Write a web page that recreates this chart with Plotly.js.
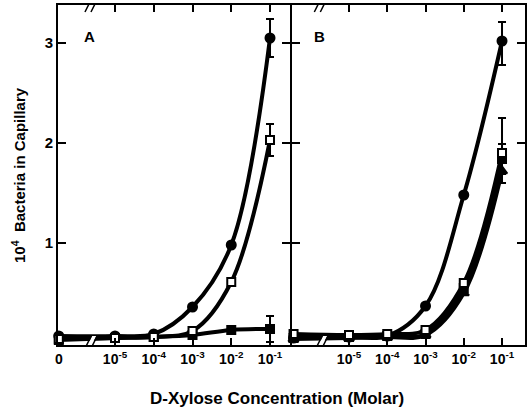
<!DOCTYPE html>
<html>
<head>
<meta charset="utf-8">
<script src="https://cdn.plot.ly/plotly-3.0.1.min.js"></script>
<style>html,body{margin:0;padding:0;background:#fff;}#chart{width:532px;height:408px;}</style>
</head>
<body>
<div id="chart"></div>
<script>
// ---- data ----
const ZERO_POS = -6.45;           // where the "0" concentration sits on the broken log axis
const concentrations = [0, 1e-5, 1e-4, 1e-3, 1e-2, 1e-1];
const tickLabelsA = ["0", "10<sup>-5</sup>", "10<sup>-4</sup>", "10<sup>-3</sup>", "10<sup>-2</sup>", "10<sup>-1</sup>"];
const tickLabelsB = ["10<sup>-5</sup>", "10<sup>-4</sup>", "10<sup>-3</sup>", "10<sup>-2</sup>", "10<sup>-1</sup>"];
const yTicks = [1, 2, 3];

// Panel A
const aCircles       = [0.07, 0.07, 0.09, 0.36, 0.98, 3.05];
const aCirclesErr    = [0, 0, 0, 0, 0, 0.19];
const aOpenSquares   = [0.04, 0.05, 0.06, 0.12, 0.61, 2.03];
const aOpenSqErr     = [0, 0, 0, 0, 0, 0.16];
const aFilledSquares = [0.03, 0.05, 0.06, 0.08, 0.13, 0.14];
const aFilledSqErr   = [0, 0, 0, 0, 0, 0.13];

// Panel B
const bCircles        = [0.05, 0.06, 0.07, 0.37, 1.48, 3.02];
const bCirclesErrUp   = [0, 0, 0, 0, 0, 0.19];
const bCirclesErrDn   = [0, 0, 0, 0, 0, 0.24];
const bOpenSquares    = [0.09, 0.08, 0.09, 0.13, 0.60, 1.90];
const bOpenSqErrUp    = [0, 0, 0, 0, 0, 0.35];
const bOpenSqErrDn    = [0, 0, 0, 0, 0, 0.10];
const bFilledSquares  = [0.05, 0.06, 0.07, 0.09, 0.55, 1.84];
const bFilledSqErr    = [0, 0, 0, 0, 0, 0.15];
const bTriangles      = [0.04, 0.05, 0.06, 0.08, 0.50, 1.72];
const bTriErrUp       = [0, 0, 0, 0, 0, 0];
const bTriErrDn       = [0, 0, 0, 0, 0, 0.12];

// ---- build ----
const xPos = concentrations.map(c => c === 0 ? ZERO_POS : Math.log10(c));
const decadeVals = concentrations.filter(c => c > 0).map(c => Math.log10(c));

function series(y, xa, ya, symbol, fill, errUp, errDn) {
  return {
    x: xPos, y: y, xaxis: xa, yaxis: ya,
    type: 'scatter', mode: 'lines+markers',
    line: {color: '#000', width: 4, shape: 'spline', smoothing: 1},
    marker: {symbol: symbol, size: symbol.indexOf('square') >= 0 ? 8 : 9,
             color: fill, line: {color: '#000', width: 2}},
    error_y: {type: 'data', symmetric: errDn === undefined, array: errUp,
              arrayminus: errDn, color: '#000', thickness: 2, width: 4},
    cliponaxis: false, hoverinfo: 'skip'
  };
}

const data = [
  series(aFilledSquares, 'x', 'y', 'square', '#000', aFilledSqErr),
  series(aCircles, 'x', 'y', 'circle', '#000', aCirclesErr),
  series(aOpenSquares, 'x', 'y', 'square', '#fff', aOpenSqErr),
  series(bTriangles, 'x2', 'y2', 'triangle-up', '#000', bTriErrUp, bTriErrDn),
  series(bFilledSquares, 'x2', 'y2', 'square', '#000', bFilledSqErr),
  series(bCircles, 'x2', 'y2', 'circle', '#000', bCirclesErrUp, bCirclesErrDn),
  series(bOpenSquares, 'x2', 'y2', 'square', '#fff', bOpenSqErrUp, bOpenSqErrDn)
];

const FONT = 'Liberation Sans, Arial, sans-serif';
const tickFont = {family: FONT, size: 14, color: '#000', weight: 'bold'};
const xCommon = {
  ticks: 'inside', ticklen: 7, tickwidth: 2, tickcolor: '#000',
  showline: true, linewidth: 2, linecolor: '#000', mirror: 'ticks',
  showgrid: false, zeroline: false, tickfont: tickFont, tickmode: 'array', fixedrange: true
};
const yCommon = {
  range: [-0.02, 3.38], tickmode: 'array', tickvals: yTicks, ticktext: yTicks.map(String),
  ticks: 'inside', ticklen: 8, tickwidth: 2, tickcolor: '#000',
  showline: true, linewidth: 2, linecolor: '#000', mirror: 'ticks',
  showgrid: false, zeroline: false, tickfont: Object.assign({}, tickFont, {size: 15}), fixedrange: true
};

function breakMark(xa, xval, ya, yval) {
  return [
    {type: 'path', xref: xa, yref: ya, xsizemode: 'pixel', ysizemode: 'pixel',
     xanchor: xval, yanchor: yval, path: 'M-5,-7 L2,7 L6,7 L-1,-7 Z',
     fillcolor: '#fff', line: {width: 0}, layer: 'above'},
    {type: 'path', xref: xa, yref: ya, xsizemode: 'pixel', ysizemode: 'pixel',
     xanchor: xval, yanchor: yval, path: 'M-6,-7 L1,7 M0,-7 L7,7',
     line: {color: '#000', width: 1.5}, layer: 'above'}
  ];
}

const layout = {
  width: 532, height: 408,
  margin: {l: 58, r: 7, t: 5, b: 63},
  paper_bgcolor: '#fff', plot_bgcolor: '#fff',
  showlegend: false,
  xaxis: Object.assign({}, xCommon, {domain: [0, 0.4968], range: [-6.471, -0.484], anchor: 'y',
         tickvals: [ZERO_POS].concat(decadeVals), ticktext: tickLabelsA}),
  xaxis2: Object.assign({}, xCommon, {domain: [0.5011, 1], range: [-6.49, -0.399], anchor: 'y2',
         tickvals: decadeVals, ticktext: tickLabelsB}),
  yaxis: Object.assign({}, yCommon, {anchor: 'x'}),
  yaxis2: Object.assign({}, yCommon, {anchor: 'x2', showticklabels: false}),
  shapes: [].concat(
    breakMark('x', -5.62, 'y', 3.38),
    breakMark('x', -5.64, 'y', 0.0),
    breakMark('x2', -5.75, 'y2', 3.38),
    breakMark('x2', -5.73, 'y2', 0.0)
  ),
  annotations: [
    {text: 'A', xref: 'paper', yref: 'paper', x: 0.0685, y: 0.906, xanchor: 'center', yanchor: 'middle',
     showarrow: false, font: {family: FONT, size: 15, color: '#000', weight: 'bold'}},
    {text: 'B', xref: 'paper', yref: 'paper', x: 0.559, y: 0.906, xanchor: 'center', yanchor: 'middle',
     showarrow: false, font: {family: FONT, size: 15, color: '#000', weight: 'bold'}},
    {text: 'D-Xylose Concentration (Molar)', xref: 'paper', yref: 'paper', x: 0.469, y: -0.156,
     xanchor: 'center', yanchor: 'middle', showarrow: false,
     font: {family: FONT, size: 17, color: '#000', weight: 'bold'}},
    {text: '10<sup>4</sup>  Bacteria in Capillary', xref: 'paper', yref: 'paper', x: -0.0857, y: 0.5,
     xanchor: 'center', yanchor: 'middle', textangle: -90, showarrow: false,
     font: {family: FONT, size: 15, color: '#000', weight: 'bold'}}
  ]
};

Plotly.newPlot('chart', data, layout, {staticPlot: true, displayModeBar: false});
</script>
</body>
</html>
